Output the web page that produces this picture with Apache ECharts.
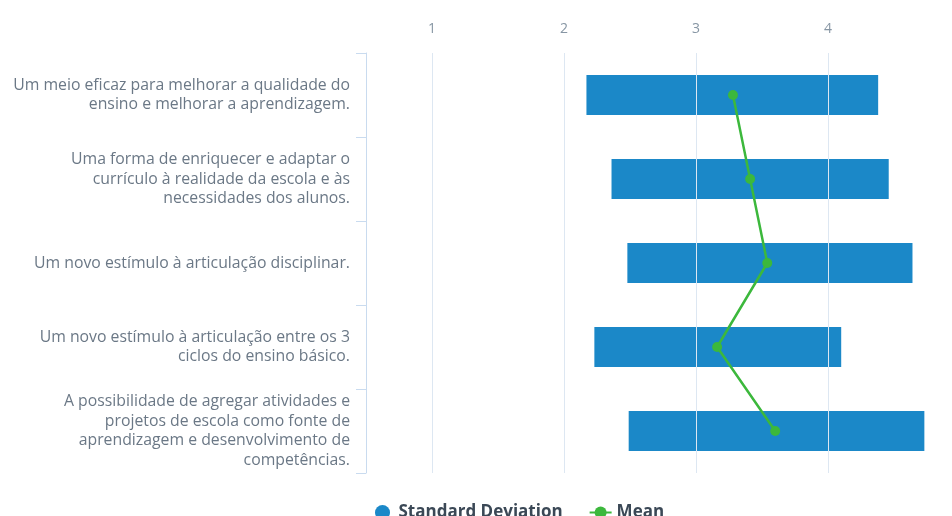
<!DOCTYPE html>
<html>
<head>
<meta charset="utf-8">
<script src="https://cdn.jsdelivr.net/npm/echarts@6/dist/echarts.min.js"></script>
<style>
  html, body { margin: 0; padding: 0; background: #fff; }
  #chart { width: 952px; height: 516px; }
</style>
</head>
<body>
<div id="chart"></div>
<script>
// categorias (quebras de linha como no original)
const categories = [
  'Um meio eficaz para melhorar a qualidade do\nensino e melhorar a aprendizagem.',
  'Uma forma de enriquecer e adaptar o\ncurrículo à realidade da escola e às\nnecessidades dos alunos.',
  'Um novo estímulo à articulação disciplinar.',
  'Um novo estímulo à articulação entre os 3\nciclos do ensino básico.',
  'A possibilidade de agregar atividades e\nprojetos de escola como fonte de\naprendizagem e desenvolvimento de\ncompetências.'
]
// limites da barra (média ± desvio)
const sdLow = [2.17, 2.36, 2.48, 2.23, 2.49]
const sdHigh = [4.38, 4.46, 4.64, 4.10, 4.73]
const meanValues = [3.28, 3.41, 3.54, 3.16, 3.60]
const xTicks = [1, 2, 3, 4, 5]

const chart = echarts.init(document.getElementById('chart'))

const option = {
  animation: false,
  textStyle: { fontFamily: 'Open Sans' },
  grid: { left: 366, right: -8, top: 53, bottom: 43, outerBoundsMode: 'none', containLabel: false },
  legend: {
    left: 370,
    top: 499,
    itemGap: 26,
    itemWidth: 22,
    itemHeight: 15,
    textStyle: { fontSize: 17, fontWeight: 'bold', color: '#3b4856' },
    data: [
      { name: 'Standard Deviation', icon: 'circle' },
      { name: 'Mean' }
    ]
  },
  xAxis: {
    type: 'value',
    position: 'top',
    min: 0.5,
    max: 5,
    interval: 0.5,
    axisLine: { show: false },
    axisTick: { show: false },
    axisLabel: {
      color: '#8796a4',
      fontSize: 14,
      margin: 17,
      formatter: v => (xTicks.indexOf(v) >= 0 ? String(v) : '')
    },
    splitLine: { show: false }
  },
  yAxis: {
    type: 'category',
    inverse: true,
    data: categories,
    axisLine: { show: true, lineStyle: { color: '#c9dbef' } },
    axisTick: { show: true, length: 10, lineStyle: { color: '#c9dbef' } },
    axisLabel: {
      color: '#6b7886',
      fontSize: 15.8,
      lineHeight: 19.5,
      margin: 16,
      align: 'right'
    }
  },
  series: [
    {
      name: 'base',
      type: 'bar',
      stack: 'sd',
      barWidth: 40,
      itemStyle: { color: 'transparent' },
      emphasis: { disabled: true },
      data: sdLow,
      // linhas de grade só nos inteiros
      markLine: {
        silent: true,
        symbol: 'none',
        label: { show: false },
        lineStyle: { color: '#dde7f2', width: 1, type: 'solid' },
        data: xTicks.map(v => ({ xAxis: v }))
      }
    },
    {
      name: 'Standard Deviation',
      type: 'bar',
      stack: 'sd',
      barWidth: 40,
      itemStyle: { color: '#1b88c8' },
      data: sdHigh.map((h, i) => +(h - sdLow[i]).toFixed(3))
    },
    {
      name: 'Mean',
      type: 'line',
      data: meanValues,
      symbol: 'circle',
      symbolSize: 10,
      z: 5,
      itemStyle: { color: '#3cb83c' },
      lineStyle: { color: '#3cb83c', width: 2.5 }
    }
  ]
}

chart.setOption(option)
</script>
</body>
</html>
